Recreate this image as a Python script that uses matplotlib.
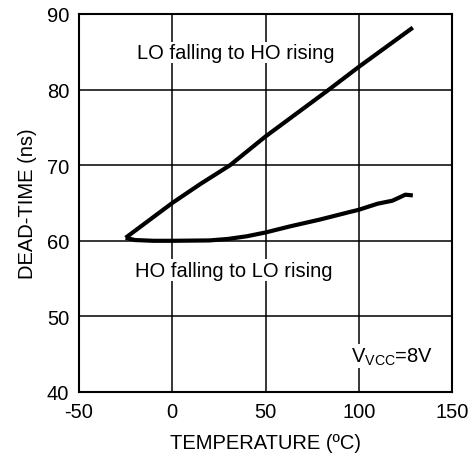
import matplotlib
matplotlib.use("Agg")
import matplotlib.pyplot as plt

plt.rcParams["font.family"] = ["Liberation Sans", "DejaVu Sans"]
plt.rcParams["axes.unicode_minus"] = False

# LO falling to HO rising
lo_hi_temp = [-25, 0, 15, 31, 50, 84, 100, 129]
lo_hi_dt = [60.4, 65.0, 67.5, 70.0, 73.8, 80.0, 83.0, 88.2]

# HO falling to LO rising
ho_lo_temp = [-25, -20, -10, 0, 20, 30, 40, 50, 63, 79, 95, 100, 110, 118, 125, 129]
ho_lo_dt = [60.4, 60.1, 60.0, 60.0, 60.05, 60.25, 60.6, 61.1, 61.9, 62.8,
            63.8, 64.1, 64.9, 65.3, 66.1, 66.0]

x_ticks = [-50, 0, 50, 100, 150]
y_ticks = [40, 50, 60, 70, 80, 90]

fig = plt.figure(figsize=(4.74, 4.64), dpi=100)
ax = fig.add_axes([79 / 474, 1 - 393 / 464, (452 - 79) / 474, (393 - 15) / 464])

ax.plot(lo_hi_temp, lo_hi_dt, color="black", lw=3, solid_capstyle="butt", zorder=3)
ax.plot(ho_lo_temp, ho_lo_dt, color="black", lw=3, solid_capstyle="butt", zorder=3)

ax.set_xlim(-50, 150)
ax.set_ylim(40, 90)
ax.set_xticks(x_ticks)
ax.set_yticks(y_ticks)
ax.grid(True, color="black", lw=1.1)
ax.set_axisbelow(True)
for s in ax.spines.values():
    s.set_linewidth(1.5)
ax.tick_params(length=0, labelsize=14.5, pad=7)

ax.set_xlabel("TEMPERATURE (\u00baC)", fontsize=14.5, labelpad=9)
ax.set_ylabel("DEAD-TIME (ns)", fontsize=14.5, labelpad=7)

box = dict(facecolor="white", edgecolor="none", pad=1)
ax.text(34, 84.9, "LO falling to HO rising", fontsize=14.5, ha="center", va="center",
        bbox=box, zorder=2)
ax.text(33, 56.1, "HO falling to LO rising", fontsize=14.5, ha="center", va="center",
        bbox=box, zorder=2)
ax.text(140, 44.0, r"V$_\mathregular{VCC}$=8V", fontsize=14.5, ha="right", va="baseline",
        bbox=box, zorder=2)

fig.savefig("out.png", dpi=100)
